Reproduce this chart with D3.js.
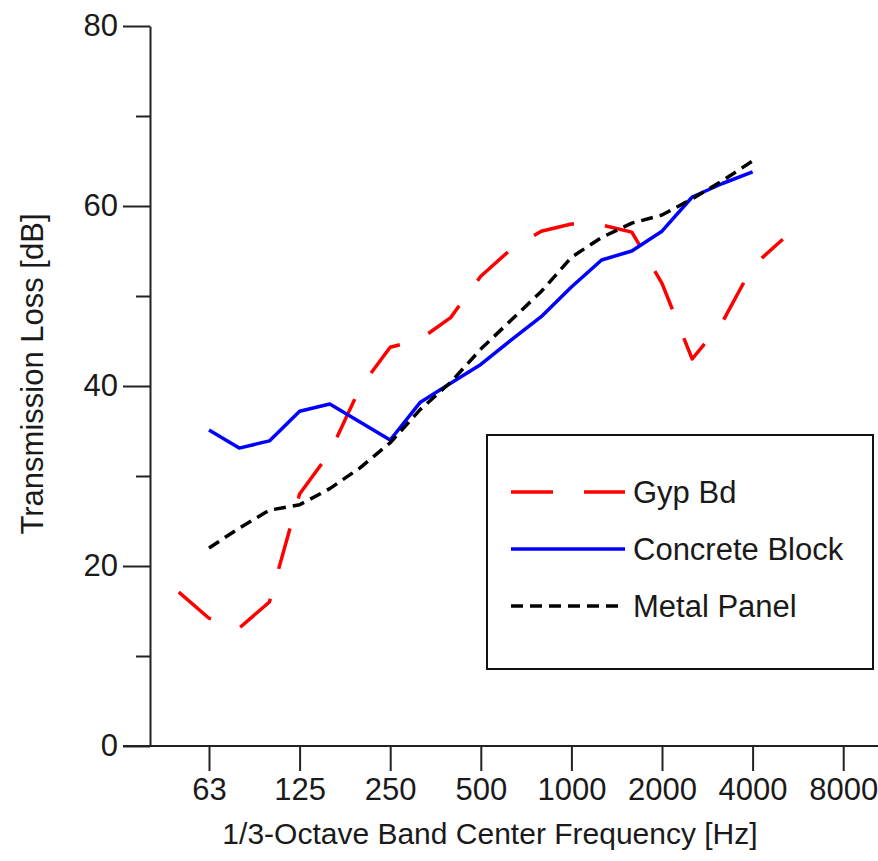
<html lang="en">
<head>
<style>
	body { margin: 0; background: #fff; }
	text { font-family: "Liberation Sans", Arial, sans-serif; fill: #1a1a1a; }
</style>
</head>
<body>
<svg width="878" height="861"></svg>
<script src="https://d3js.org/d3.v7.min.js"></script>
<script>
	// 1/3-octave bands used on the x axis
	var bands = ["40","50","63","80","100","125","160","200","250","315","400","500","630",
		"800","1000","1250","1600","2000","2500","3150","4000","5000","6300","8000"];
	var tickBands = ["63","125","250","500","1000","2000","4000","8000"];
	var yMajor = [0, 20, 40, 60, 80];
	var yMinor = [10, 30, 50, 70];

	var gypBands = ["50","63","80","100","125","160","200","250","315","400","500","630",
		"800","1000","1250","1600","2000","2500","3150","4000","5000"];
	var gypBd = [17.1,14.2,13.1,16,28,32.6,39.8,44.3,45.2,47.6,52.2,55.2,57.2,58,57.9,57.1,51.4,43,47.1,53.3,56.3];

	var blockBands = ["63","80","100","125","160","200","250","315","400","500","630",
		"800","1000","1250","1600","2000","2500","3150","4000"];
	var concreteBlock = [35.1,33.1,33.9,37.2,38,36,34,38.2,40.3,42.4,45.1,47.7,51,54,55,57.2,61,62.5,63.8];
	var metalPanel = [22,24.2,26.2,26.8,28.6,30.9,33.7,37.4,40.4,44.1,47.3,50.5,54.3,56.5,58.1,59,60.8,62.8,65];

	var svg = d3.select("svg");

	var x = d3.scalePoint().domain(bands).range([148.6, 843.2]);
	var y = d3.scaleLinear().domain([0, 80]).range([746, 26]);

	// y axis
	svg.append("g")
		.attr("transform", "translate(150,0)")
		.call(d3.axisLeft(y).tickValues(yMajor).tickSize(27).tickSizeOuter(0).tickPadding(5));
	svg.append("g")
		.attr("transform", "translate(150,0)")
		.call(d3.axisLeft(y).tickValues(yMinor).tickSize(14).tickFormat(""))
		.select(".domain").remove();

	// x axis
	var xAx = svg.append("g")
		.attr("transform", "translate(0,746)")
		.call(d3.axisBottom(x).tickValues(tickBands).tickSize(25).tickPadding(7));
	xAx.select(".domain").remove();
	svg.append("line")
		.attr("x1", 123).attr("x2", 878)
		.attr("y1", 746).attr("y2", 746)
		.attr("stroke", "#222").attr("stroke-width", 2);

	svg.selectAll(".tick line").attr("stroke", "#222").attr("stroke-width", 2);
	svg.selectAll(".domain").attr("stroke", "#222").attr("stroke-width", 2);
	svg.selectAll(".tick text")
		.attr("font-size", "31px")
		.attr("font-family", "Liberation Sans, Arial, sans-serif")
		.attr("fill", "#1a1a1a");

	// axis titles
	svg.append("text")
		.attr("x", 490)
		.attr("y", 844)
		.attr("text-anchor", "middle")
		.attr("font-size", "30px")
		.text("1/3-Octave Band Center Frequency [Hz]");

	svg.append("text")
		.attr("transform", "translate(43,374) rotate(-90)")
		.attr("text-anchor", "middle")
		.attr("font-size", "31px")
		.text("Transmission Loss [dB]");

	var series = [
		{ name: "Gyp Bd", f: gypBands, v: gypBd, color: "#ff0000", dash: "42,31" },
		{ name: "Concrete Block", f: blockBands, v: concreteBlock, color: "#0000ff", dash: null },
		{ name: "Metal Panel", f: blockBands, v: metalPanel, color: "#000000", dash: "12,7" }
	];

	var line = d3.line()
		.x(function(d) { return x(d[0]); })
		.y(function(d) { return y(d[1]); });

	series.forEach(function(s) {
		var pts = s.f.map(function(f, i) { return [f, s.v[i]]; });
		svg.append("path")
			.datum(pts)
			.attr("fill", "none")
			.attr("stroke", s.color)
			.attr("stroke-width", 3.5)
			.attr("stroke-linejoin", "round")
			.attr("stroke-dasharray", s.dash)
			.attr("d", line);
	});

	// legend
	var leg = svg.append("g");
	leg.append("rect")
		.attr("x", 487).attr("y", 435)
		.attr("width", 386).attr("height", 234)
		.attr("fill", "#fff")
		.attr("stroke", "#111")
		.attr("stroke-width", 2);

	series.forEach(function(s, i) {
		var ly = 492 + i * 57;
		leg.append("line")
			.attr("x1", 511).attr("x2", 625)
			.attr("y1", ly).attr("y2", ly)
			.attr("stroke", s.color)
			.attr("stroke-width", 3.5)
			.attr("stroke-dasharray", s.dash);
		leg.append("text")
			.attr("x", 633)
			.attr("y", ly + 11)
			.attr("font-size", "31px")
			.text(s.name);
	});
</script>
</body>
</html>
